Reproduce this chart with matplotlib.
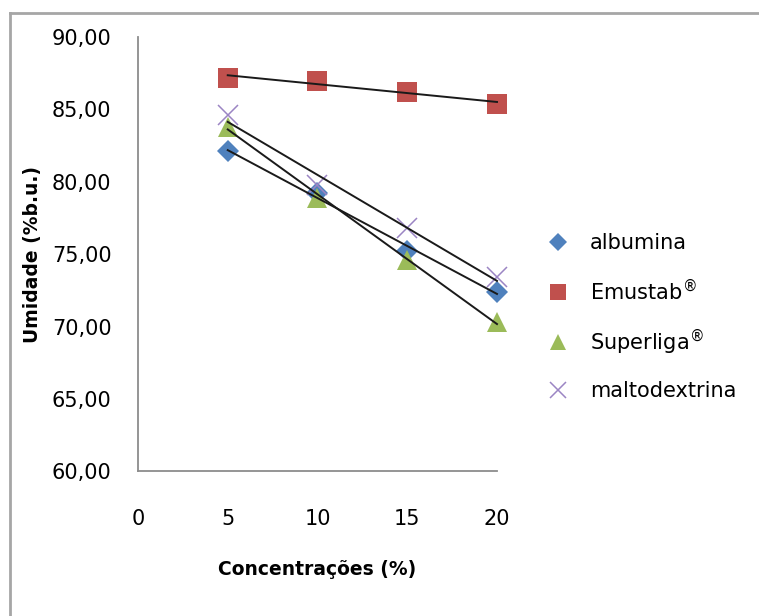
import numpy as np
import matplotlib
matplotlib.use("Agg")
import matplotlib.pyplot as plt
from matplotlib.lines import Line2D

# Moisture content (% wet basis) by carrier concentration
concentracoes = [5, 10, 15, 20]
albumina = [82.1, 79.2, 75.2, 72.4]
emustab = [87.2, 86.95, 86.2, 85.4]
superliga = [83.8, 78.9, 74.6, 70.3]
maltodextrina = [84.6, 79.8, 76.8, 73.4]

series_labels = ["albumina", r"Emustab$^{\circledR}$", r"Superliga$^{\circledR}$", "maltodextrina"]
x_ticks = [0, 5, 10, 15, 20]
y_ticks = [60, 65, 70, 75, 80, 85, 90]

plt.rcParams["font.family"] = ["DejaVu Sans"]

fig = plt.figure(figsize=(7.59, 6.16), dpi=100)
fig.patch.set_facecolor("white")
ax = fig.add_axes([0.1818, 0.2346, 0.4730, 0.7053])

styles = [
    dict(marker="D", color="#4F81BD", ms=11.5, mew=0, ls="none"),
    dict(marker="s", color="#C0504D", ms=14.0, mew=0, ls="none"),
    dict(marker="^", color="#9BBB59", ms=14.0, mew=0, ls="none"),
    dict(marker="x", color="#9B85C4", ms=14.0, mew=1.1, ls="none"),
]

x = np.array(concentracoes, dtype=float)
for values, label, st in zip([albumina, emustab, superliga, maltodextrina], series_labels, styles):
    ax.plot(x, values, label=label, zorder=3, clip_on=False, **st)

# Linear trend lines over the measured range
for values in [albumina, emustab, superliga, maltodextrina]:
    coef = np.polyfit(x, values, 1)
    xs = np.array([x.min(), x.max()])
    ax.plot(xs, np.polyval(coef, xs), color="#1a1a1a", lw=1.4, zorder=4, clip_on=False)

ax.set_xlim(0, 20)
ax.set_ylim(60, 90)
ax.set_xticks(x_ticks)
ax.set_xticklabels([str(t) for t in x_ticks])
ax.set_yticks(y_ticks)
ax.set_yticklabels([f"{t:.2f}".replace(".", ",") for t in y_ticks])
ax.tick_params(axis="both", length=0, labelsize=15, colors="black")
ax.tick_params(axis="y", pad=19)
ax.tick_params(axis="x", pad=27)

for side in ["top", "right"]:
    ax.spines[side].set_visible(False)
for side in ["left", "bottom"]:
    ax.spines[side].set_color("#8c8c8c")
    ax.spines[side].set_linewidth(1.3)

ax.set_xlabel("Concentrações (%)", fontsize=13.5, fontweight="bold")
ax.set_ylabel("Umidade (%b.u.)", fontsize=13.5, fontweight="bold")
ax.xaxis.set_label_coords(0.5, -0.204)
ax.yaxis.set_label_coords(-0.268, 0.5)

leg = ax.legend(loc="center left", bbox_to_anchor=(1.111, 0.355), frameon=False,
                fontsize=15, handlelength=1.0, handletextpad=1.05,
                labelspacing=1.15, borderpad=0, markerscale=0.8)

# Chart area border (top and left edges)
fig.add_artist(Line2D([10 / 759, 10 / 759], [0, 1 - 12.5 / 616], color="#a6a6a6", lw=2,
                      transform=fig.transFigure))
fig.add_artist(Line2D([10 / 759, 1], [1 - 12.5 / 616, 1 - 12.5 / 616], color="#a6a6a6", lw=2,
                      transform=fig.transFigure))

fig.savefig("out.png", dpi=100, facecolor="white")
